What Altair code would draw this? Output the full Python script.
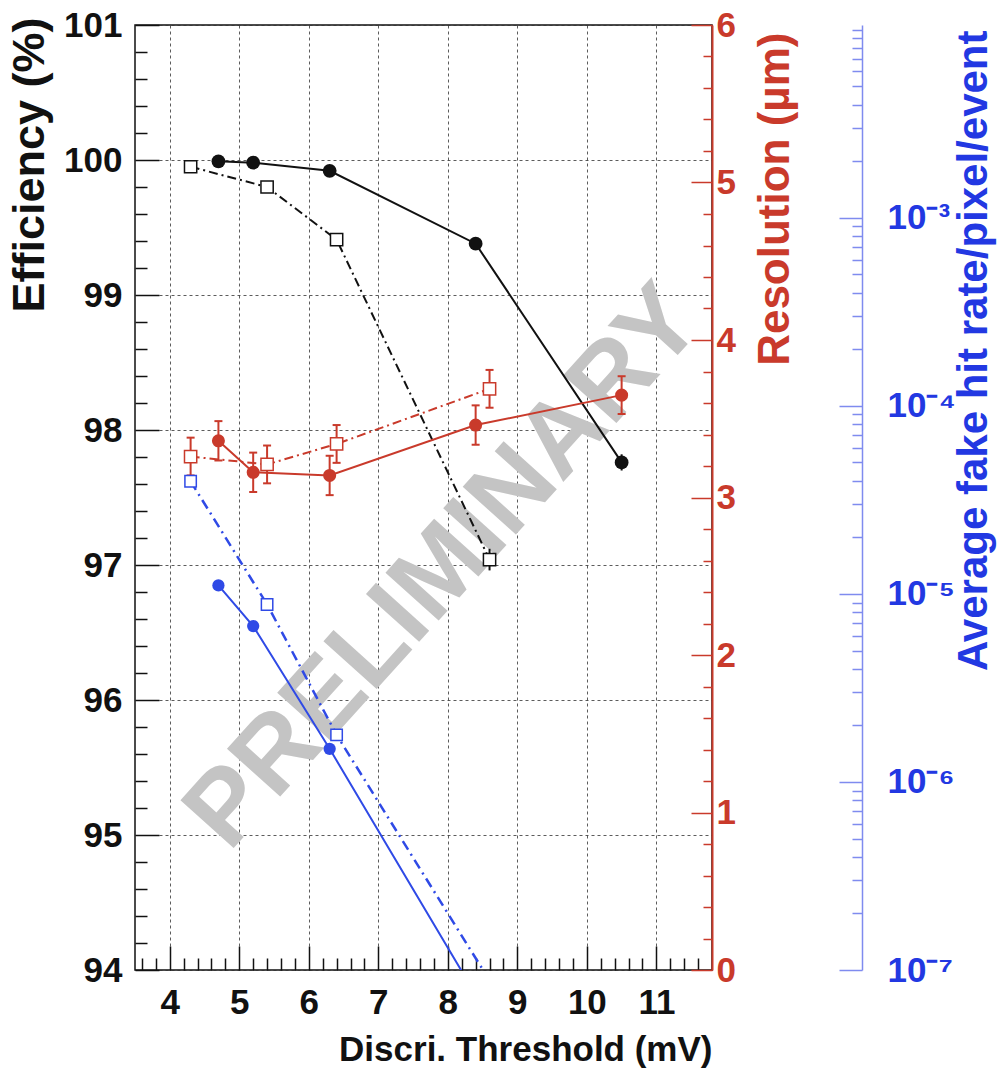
import altair as alt
import pandas as pd

# ---------------- data ----------------
thr_filled = [4.7, 5.2, 6.3, 8.4, 10.5]
thr_open = [4.3, 5.4, 6.4, 8.6]

eff_filled = [99.99, 99.98, 99.92, 99.38, 97.76]
eff_filled_err = [0.01, 0.01, 0.02, 0.03, 0.06]
eff_open = [99.95, 99.80, 99.41, 97.04]
eff_open_err = [0.01, 0.02, 0.03, 0.08]

res_filled = [3.36, 3.16, 3.14, 3.46, 3.65]
res_filled_err = [0.125, 0.125, 0.125, 0.125, 0.12]
res_open = [3.26, 3.21, 3.34, 3.69]
res_open_err = [0.12, 0.12, 0.12, 0.12]

rate_thr_filled = [4.7, 5.2, 6.3, 8.4]
rate_filled = [1.11e-5, 6.74e-6, 1.50e-6, 7.4e-8]
rate_thr_open = [4.3, 5.4, 6.4, 8.6]
rate_open = [3.97e-5, 8.79e-6, 1.78e-6, 8.8e-8]

x_ticks = [4, 5, 6, 7, 8, 9, 10, 11]
eff_ticks = [94, 95, 96, 97, 98, 99, 100, 101]
res_ticks = [0, 1, 2, 3, 4, 5, 6]
rate_ticks = [1e-7, 1e-6, 1e-5, 1e-4, 1e-3]

watermark_label = ["PRELIMINARY"]
watermark_thr = [7.95]
watermark_eff = [96.98]

# minor tick positions
x_minor = [round(3.6 + 0.2 * i, 1) for i in range(41) if abs(round(3.6 + 0.2 * i, 1) % 1) > 1e-6]
eff_minor = [round(94 + 0.2 * i, 1) for i in range(36) if abs(round(94 + 0.2 * i, 1) % 1) > 1e-6]
res_minor = [round(0.2 * i, 1) for i in range(31) if abs(round(0.2 * i, 1) % 1) > 1e-6]
rate_minor = [k * 10.0 ** n for n in range(-7, -2) for k in range(2, 10)] + [1e-2]

# ---------------- tables ----------------
df_eff_f = pd.DataFrame({"thr": thr_filled, "v": eff_filled,
                         "lo": [v - e for v, e in zip(eff_filled, eff_filled_err)],
                         "hi": [v + e for v, e in zip(eff_filled, eff_filled_err)]})
df_eff_o = pd.DataFrame({"thr": thr_open, "v": eff_open,
                         "lo": [v - e for v, e in zip(eff_open, eff_open_err)],
                         "hi": [v + e for v, e in zip(eff_open, eff_open_err)]})
df_eff_all = pd.concat([df_eff_f, df_eff_o])
df_res_f = pd.DataFrame({"thr": thr_filled, "v": res_filled,
                         "lo": [v - e for v, e in zip(res_filled, res_filled_err)],
                         "hi": [v + e for v, e in zip(res_filled, res_filled_err)]})
df_res_o = pd.DataFrame({"thr": thr_open, "v": res_open,
                         "lo": [v - e for v, e in zip(res_open, res_open_err)],
                         "hi": [v + e for v, e in zip(res_open, res_open_err)]})
df_res_all = pd.concat([df_res_f, df_res_o])
df_rate_f = pd.DataFrame({"thr": rate_thr_filled, "v": rate_filled})
df_rate_o = pd.DataFrame({"thr": rate_thr_open, "v": rate_open})
df_wm = pd.DataFrame({"thr": watermark_thr, "v": watermark_eff, "label": watermark_label})

# ---------------- style ----------------
F = "Liberation Sans"
BLACK = "#111111"
RED = "#c93a2b"
BLUE = "#2f4ae6"
BLUE_AXIS = "#7f8bef"
BLUE_LABEL = "#2238e2"
WM_GRAY = "#c4c4c4"

XS = alt.Scale(domain=[3.5, 11.8], nice=False, zero=False)
EFF = alt.Scale(domain=[94, 101], nice=False, zero=False)
RES = alt.Scale(domain=[0, 6], nice=False, zero=False)
RATE = alt.Scale(type="log", domain=[1e-7, 1.06e-2], nice=False)


def xenc(axis=None):
    return alt.X("thr:Q", scale=XS, axis=axis)


# ---------------- axes ----------------
ax_x_major = alt.Axis(orient="bottom", offset=-24, tickSize=24, tickColor=BLACK, values=x_ticks,
                      format="d", labelColor=BLACK, labelPadding=15, domain=False, grid=True,
                      title="Discri. Threshold (mV)", titleFontSize=35, titleColor=BLACK,
                      titleAlign="right", titleBaseline="alphabetic", titleAngle=0,
                      titleX=577, titleY=114)
ax_x_minor = alt.Axis(orient="bottom", offset=-12, tickSize=12, tickColor=BLACK, values=x_minor,
                      labels=False, domain=False, grid=False, title=None)

ax_eff_major = alt.Axis(orient="left", offset=-24, tickSize=24, tickColor=BLACK, values=eff_ticks,
                        format="d", labelColor=BLACK, labelPadding=13, domain=False, grid=True,
                        title="Efficiency (%)", titleFontSize=45, titleColor=BLACK, titleAngle=270,
                        titleAlign="right", titleBaseline="alphabetic", titleX=-116, titleY=-8)
ax_eff_minor = alt.Axis(orient="left", offset=-12, tickSize=12, tickColor=BLACK, values=eff_minor,
                        labels=False, domain=False, grid=False, title=None)

ax_res_major = alt.Axis(orient="right", offset=-21, tickSize=21, tickColor=RED, values=res_ticks,
                        format="d", labelColor=RED, labelPadding=4, domain=False, grid=False,
                        title="Resolution (µm)", titleFontSize=44, titleColor=RED, titleAngle=270,
                        titleAlign="right", titleBaseline="alphabetic", titleX=97, titleY=7)
ax_res_minor = alt.Axis(orient="right", offset=-9, tickSize=9, tickColor=RED, values=res_minor,
                        labels=False, domain=False, grid=False, title=None)
ax_res_line = alt.Axis(orient="right", offset=0, ticks=False, labels=False, domain=True,
                       domainColor=RED, domainWidth=2, grid=False, title=None)

rate_label_expr = ("'10' + (datum.value < 3e-7 ? '⁻⁷' : datum.value < 3e-6 ? '⁻⁶' : "
                   "datum.value < 3e-5 ? '⁻⁵' : datum.value < 3e-4 ? '⁻⁴' : '⁻³')")
ax_rate_major = alt.Axis(orient="left", offset=-727, tickSize=23, tickColor=BLUE_AXIS, values=rate_ticks,
                         labelExpr=rate_label_expr, labelAlign="left", labelBaseline="middle",
                         labelPadding=-48, labelColor=BLUE_LABEL, domain=True, domainColor=BLUE_AXIS,
                         domainWidth=1.5, grid=False,
                         title="Average fake hit rate/pixel/event", titleFontSize=42, titleColor=BLUE_LABEL,
                         titleAngle=270, titleAlign="right", titleBaseline="alphabetic",
                         titleX=124, titleY=5)
ax_rate_minor = alt.Axis(orient="left", offset=-727, tickSize=10, tickColor=BLUE_AXIS, values=rate_minor,
                         labels=False, domain=False, grid=False, title=None)

# ---------------- efficiency layers ----------------
wm = alt.Chart(df_wm).mark_text(font=F, fontSize=104, fontWeight="bold", color=WM_GRAY, angle=312,
                                align="center", baseline="middle").encode(
    x=xenc(), y=alt.Y("v:Q", scale=EFF, axis=None), text="label:N")

eff_f_line = alt.Chart(df_eff_f).mark_line(color=BLACK, strokeWidth=2).encode(
    x=xenc(ax_x_major), y=alt.Y("v:Q", scale=EFF, axis=ax_eff_major))
eff_o_line = alt.Chart(df_eff_o).mark_line(color=BLACK, strokeWidth=2, strokeDash=[9, 4, 2, 4]).encode(
    x=xenc(ax_x_minor), y=alt.Y("v:Q", scale=EFF, axis=ax_eff_minor))
eff_err = alt.Chart(df_eff_all).mark_rule(color=BLACK, strokeWidth=2).encode(
    x=xenc(), y=alt.Y("lo:Q", scale=EFF, axis=None), y2="hi:Q")
eff_f_pts = alt.Chart(df_eff_f).mark_point(shape="circle", filled=True, size=190, color=BLACK, opacity=1).encode(
    x=xenc(), y=alt.Y("v:Q", scale=EFF, axis=None))
eff_o_pts = alt.Chart(df_eff_o).mark_point(shape="square", filled=True, fill="white", stroke=BLACK,
                                           strokeWidth=1.5, size=150, opacity=1).encode(
    x=xenc(), y=alt.Y("v:Q", scale=EFF, axis=None))

eff_layer = alt.layer(wm, eff_f_line, eff_o_line, eff_err, eff_f_pts, eff_o_pts).resolve_axis(
    x="independent", y="independent")

# ---------------- resolution layers ----------------
res_f_line = alt.Chart(df_res_f).mark_line(color=RED, strokeWidth=2).encode(
    x=xenc(), y=alt.Y("v:Q", scale=RES, axis=ax_res_major))
res_o_line = alt.Chart(df_res_o).mark_line(color=RED, strokeWidth=2, strokeDash=[9, 4, 2, 4]).encode(
    x=xenc(), y=alt.Y("v:Q", scale=RES, axis=ax_res_minor))
res_err = alt.Chart(df_res_all).mark_rule(color=RED, strokeWidth=2).encode(
    x=xenc(), y=alt.Y("lo:Q", scale=RES, axis=ax_res_line), y2="hi:Q")
res_cap_lo = alt.Chart(df_res_all).mark_tick(color=RED, orient="horizontal", size=8, thickness=2, opacity=1).encode(
    x=xenc(), y=alt.Y("lo:Q", scale=RES, axis=None))
res_cap_hi = alt.Chart(df_res_all).mark_tick(color=RED, orient="horizontal", size=8, thickness=2, opacity=1).encode(
    x=xenc(), y=alt.Y("hi:Q", scale=RES, axis=None))
res_f_pts = alt.Chart(df_res_f).mark_point(shape="circle", filled=True, size=170, color=RED, opacity=1).encode(
    x=xenc(), y=alt.Y("v:Q", scale=RES, axis=None))
res_o_pts = alt.Chart(df_res_o).mark_point(shape="square", filled=True, fill="white", stroke=RED,
                                           strokeWidth=1.5, size=150, opacity=1).encode(
    x=xenc(), y=alt.Y("v:Q", scale=RES, axis=None))

res_layer = alt.layer(res_f_line, res_o_line, res_err, res_cap_lo, res_cap_hi, res_f_pts, res_o_pts).resolve_axis(
    x="independent", y="independent")

# ---------------- fake-rate layers ----------------
rate_f_line = alt.Chart(df_rate_f).mark_line(color=BLUE, strokeWidth=2, clip=True).encode(
    x=xenc(), y=alt.Y("v:Q", scale=RATE, axis=ax_rate_major))
rate_o_line = alt.Chart(df_rate_o).mark_line(color=BLUE, strokeWidth=2.5, strokeDash=[10, 5, 2, 5], clip=True).encode(
    x=xenc(), y=alt.Y("v:Q", scale=RATE, axis=ax_rate_minor))
rate_f_pts = alt.Chart(df_rate_f).mark_point(shape="circle", filled=True, size=150, color=BLUE, opacity=1,
                                             clip=True).encode(
    x=xenc(), y=alt.Y("v:Q", scale=RATE, axis=None))
rate_o_pts = alt.Chart(df_rate_o).mark_point(shape="square", filled=True, fill="white", stroke=BLUE,
                                             strokeWidth=1.5, size=130, opacity=1, clip=True).encode(
    x=xenc(), y=alt.Y("v:Q", scale=RATE, axis=None))

rate_layer = alt.layer(rate_f_line, rate_o_line, rate_f_pts, rate_o_pts).resolve_axis(
    x="independent", y="independent")

# ---------------- combine ----------------
chart = alt.layer(eff_layer, res_layer, rate_layer).resolve_scale(y="independent").resolve_axis(
    x="independent", y="independent").properties(
    width=577, height=945,
    autosize=alt.AutoSizeParams(type="none"),
    padding={"left": 135, "top": 25, "right": 288, "bottom": 106},
    background="white",
).configure_view(stroke=BLACK, strokeWidth=1.5).configure_axis(
    labelFont=F, labelFontSize=35, labelFontWeight="bold", labelFlush=False, labelOverlap=False,
    titleFont=F, titleFontWeight="bold", tickWidth=1.5, domainWidth=1.5,
    gridColor="#333333", gridDash=[3, 3], gridWidth=1, gridOpacity=0.8)

chart.save("out.html", embed_options={"renderer": "svg", "actions": False})
